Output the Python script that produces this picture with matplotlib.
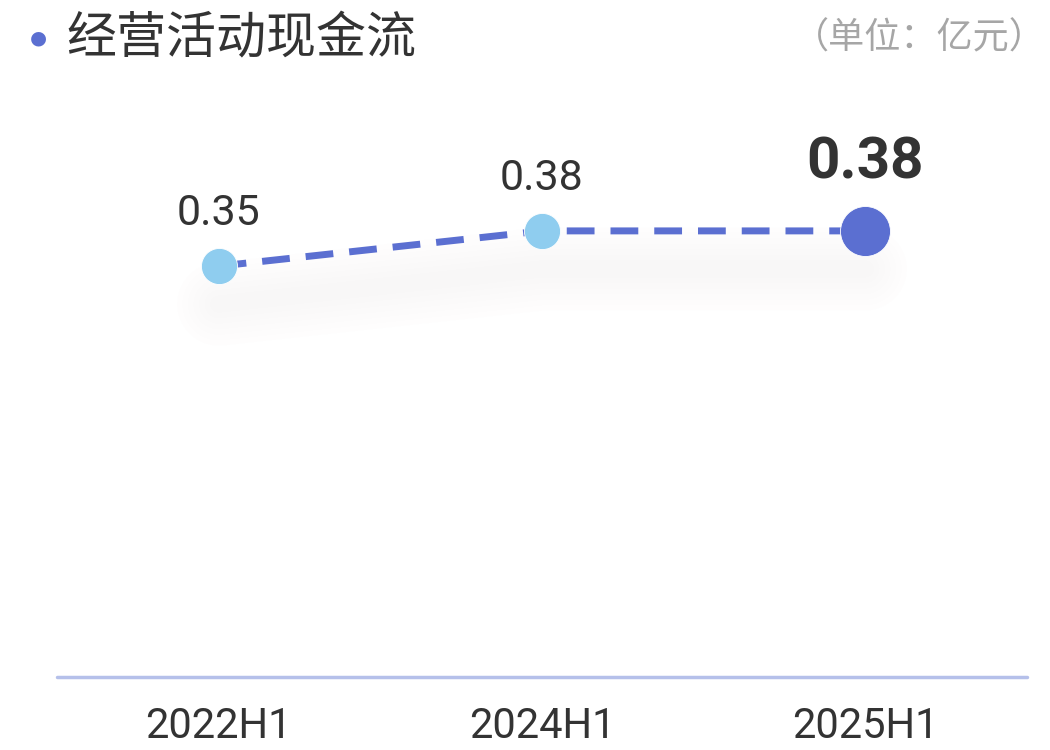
import matplotlib
matplotlib.use("Agg")
import matplotlib.pyplot as plt
import matplotlib.transforms as mtransforms

plt.rcParams['font.family'] = ['Noto Sans CJK SC', 'DejaVu Sans']

categories = ["2022H1", "2024H1", "2025H1"]
values = [0.35, 0.38, 0.38]
value_labels = ["0.35", "0.38", "0.38"]
title = "经营活动现金流"
unit = "（单位：亿元）"

fig = plt.figure(figsize=(10.5, 7.5), dpi=100)
ax = fig.add_axes([57/1050, 73/750, 970/1050, 577/750])
ax.set_xlim(-0.5, 2.5)
ax.set_ylim(0, 0.4915)
ax.axis('off')

x = list(range(len(categories)))

# soft, diffuse shadow beneath the line
tr_sh = mtransforms.offset_copy(ax.transData, fig=fig, x=0, y=-38, units='dots')
for lw in [60, 52, 44, 36, 28, 20, 12]:
    ax.plot(x, values, color='#C0A8A8', lw=lw, alpha=0.012, solid_capstyle='round',
            solid_joinstyle='round', transform=tr_sh, zorder=1)

line_color = '#5B6FD1'
ax.plot(x, values, color=line_color, lw=5, dashes=(4, 2.3), zorder=2)

ax.plot(x[:-1], values[:-1], 'o', color='#8FCDEF', markersize=26, mec='white', mew=0.6, zorder=3)
ax.plot(x[-1:], values[-1:], 'o', color=line_color, markersize=36, mec='white', mew=0.6, zorder=3)

for i, (xi, v, lab) in enumerate(zip(x, values, value_labels)):
    if i == len(x) - 1:
        ax.annotate(lab, (xi, v), xytext=(0, 29), textcoords='offset points',
                    ha='center', va='bottom', fontsize=42, fontweight='bold',
                    color='#333333', family=['Roboto', 'DejaVu Sans'])
    else:
        ax.annotate(lab, (xi, v), xytext=(0, 23), textcoords='offset points',
                    ha='center', va='bottom', fontsize=31,
                    color='#333333', family=['Roboto', 'DejaVu Sans'])

# baseline
ax.plot([-0.5, 2.5], [0, 0], color='#B5C0EA', lw=2.5, solid_capstyle='round', clip_on=False)

tr_tick = mtransforms.offset_copy(ax.transData, fig=fig, x=0, y=-50, units='dots')
for xi, c in zip(x, categories):
    ax.text(xi, 0, c, transform=tr_tick,
            ha='center', va='center', fontsize=30, color='#333333',
            family=['Roboto', 'DejaVu Sans'])

# header
fig.text(38/1050, 1 - 38/750, '●', fontsize=14, color='#5B6FD1', ha='center', va='center',
         family=['DejaVu Sans'])
fig.text(66/1050, 1 - 39/750, title, fontsize=36, color='#333333', ha='left', va='center')
fig.text(793/1050, 1 - 38/750, unit, fontsize=26, color='#A6A6A6', ha='left', va='center')

fig.savefig('out.png', dpi=100, facecolor='white')
